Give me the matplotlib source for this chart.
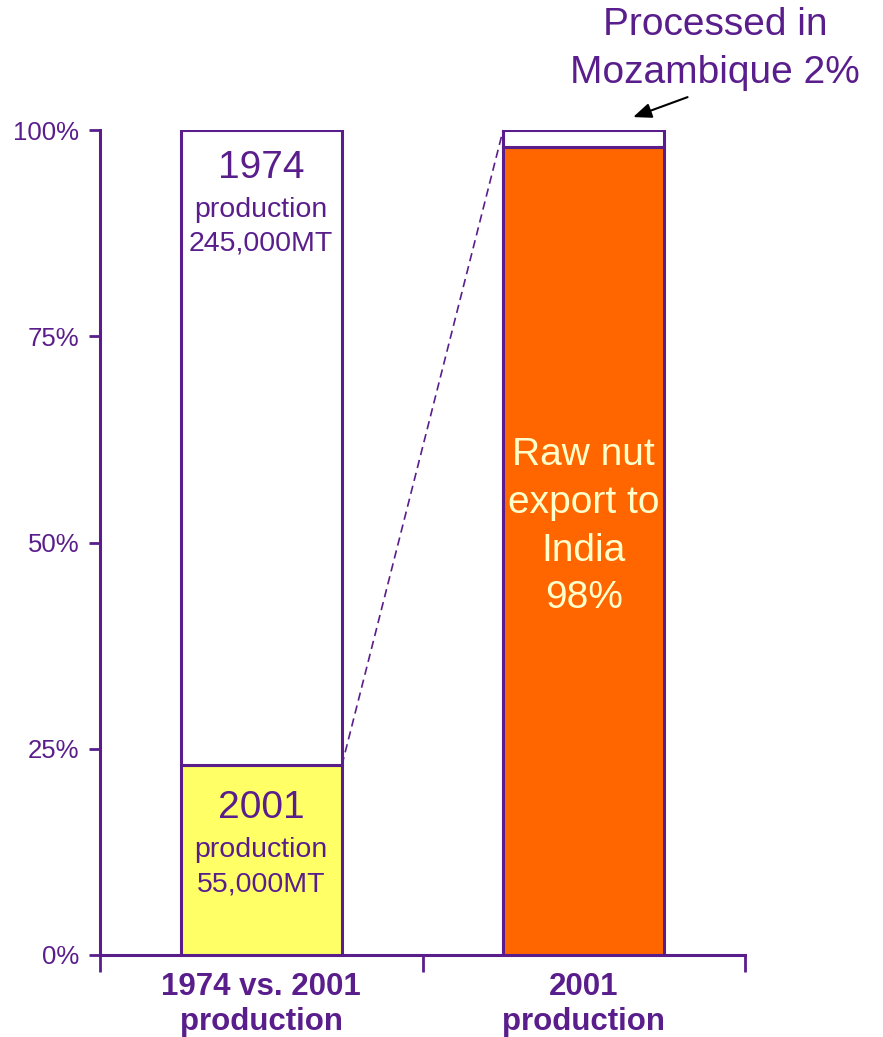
import matplotlib
matplotlib.use('Agg')
import matplotlib.pyplot as plt
from matplotlib.ticker import FixedLocator

plt.rcParams['font.family'] = ['Liberation Sans', 'DejaVu Sans']

purple = '#5a1e8c'

# data
categories = ['1974 vs. 2001\nproduction', '2001\nproduction']
share_2001_of_1974 = 0.23      # 55,000MT vs 245,000MT
share_export_india = 0.98
share_processed_moz = 0.02
yticks = [0, 0.25, 0.5, 0.75, 1.0]
ytick_labels = ['0%', '25%', '50%', '75%', '100%']

fig = plt.figure(figsize=(8.83, 10.37), dpi=100)
ax = fig.add_axes([100 / 883, 82 / 1037, 645 / 883, 825 / 1037])

x = [0, 1]
w = 0.5
# bar 1: 2001 vs 1974
ax.bar(x[0], share_2001_of_1974, w, color='#ffff66', edgecolor=purple, linewidth=2.2, zorder=3)
ax.bar(x[0], 1 - share_2001_of_1974, w, bottom=share_2001_of_1974, color='white',
       edgecolor=purple, linewidth=2.2, zorder=3)
# bar 2: 2001 split
ax.bar(x[1], share_export_india, w, color='#ff6600', edgecolor=purple, linewidth=2.2, zorder=3)
ax.bar(x[1], share_processed_moz, w, bottom=share_export_india, color='white',
       edgecolor=purple, linewidth=2.2, zorder=3)

# dashed connector
ax.plot([x[0] + w / 2, x[1] - w / 2], [share_2001_of_1974, 1.0], ls=(0, (5, 3)), color=purple,
        lw=1.2, zorder=2, clip_on=False)

ax.set_xlim(-0.5, 1.5)
ax.set_ylim(0, 1)
ax.set_yticks(yticks)
ax.set_yticklabels(ytick_labels)
ax.set_xticks(x)
ax.set_xticklabels(categories, fontsize=22.5, fontweight='bold', color=purple, linespacing=1.25)
ax.xaxis.set_minor_locator(FixedLocator([-0.5, 0.5, 1.5]))
ax.tick_params(axis='x', which='major', length=0, pad=12)
ax.tick_params(axis='x', which='minor', length=12, width=2, color=purple, direction='out')
ax.tick_params(axis='y', length=8, width=2, color=purple, labelsize=18.5, labelcolor=purple, pad=7)
for s in ['top', 'right']:
    ax.spines[s].set_visible(False)
for s in ['left', 'bottom']:
    ax.spines[s].set_color(purple)
    ax.spines[s].set_linewidth(2.2)

# bar texts
ax.text(x[0], 0.954, '1974', ha='center', va='center', fontsize=28, color=purple, zorder=4)
ax.text(x[0], 0.903, 'production', ha='center', va='center', fontsize=20.5, color=purple, zorder=4)
ax.text(x[0], 0.862, '245,000MT', ha='center', va='center', fontsize=20.5, color=purple, zorder=4)
ax.text(x[0], 0.178, '2001', ha='center', va='center', fontsize=28, color=purple, zorder=4)
ax.text(x[0], 0.127, 'production', ha='center', va='center', fontsize=20.5, color=purple, zorder=4)
ax.text(x[0], 0.085, '55,000MT', ha='center', va='center', fontsize=20.5, color=purple, zorder=4)

ax.text(x[1], 0.519, 'Raw nut\nexport to\nIndia\n98%', ha='center', va='center', fontsize=28,
        color='#ffffcc', linespacing=1.42, zorder=4)

ax.annotate('', xy=(1.145, 1.0145), xytext=(1.33, 1.041),
            arrowprops=dict(arrowstyle='-|>,head_length=1.1,head_width=0.45', color='black', lw=1.5),
            annotation_clip=False)
fig.text(715 / 883, 1 - 49 / 1037, 'Processed in\nMozambique 2%', ha='center', va='center',
         fontsize=28, color=purple, linespacing=1.4)

fig.savefig('out.png', dpi=100, facecolor='white')
